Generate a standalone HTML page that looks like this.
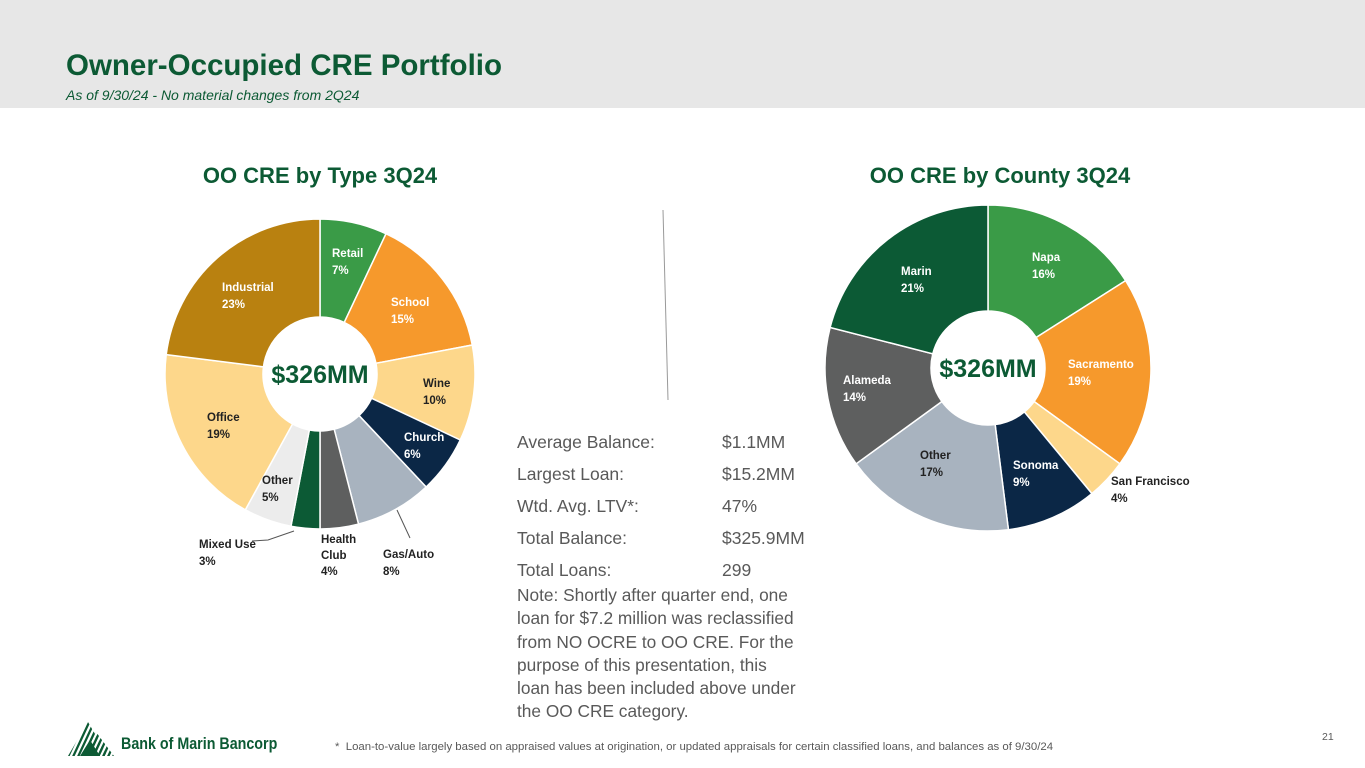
<!DOCTYPE html>
<html><head><meta charset="utf-8"><style>
body{margin:0;width:1365px;height:768px;overflow:hidden;background:#fff;font-family:"Liberation Sans",sans-serif;position:relative}
.a{position:absolute}
.lb{position:absolute;font-size:11.5px;font-weight:bold;line-height:17px;white-space:nowrap}
.w{color:#fff}.d{color:#222}
.st{position:absolute;font-size:17.5px;color:#595959;white-space:nowrap}
</style></head><body>
<div class="a" style="left:0;top:0;width:1365px;height:108px;background:#e7e7e7"></div>
<div class="a" style="left:66px;top:49px;font-size:29.5px;font-weight:bold;color:#0c5a34">Owner-Occupied CRE Portfolio</div>
<div class="a" style="left:66px;top:87px;font-size:14px;font-style:italic;color:#0c5a34">As of 9/30/24 - No material changes from 2Q24</div>
<div class="a" style="left:165px;width:310px;text-align:center;top:163px;font-size:22px;font-weight:bold;color:#0c5a34">OO CRE by Type 3Q24</div>
<div class="a" style="left:845px;width:310px;text-align:center;top:163px;font-size:22px;font-weight:bold;color:#0c5a34">OO CRE by County 3Q24</div>
<svg class="a" style="left:0;top:0" width="1365" height="768" id="svg">
<line x1="663" y1="210" x2="668" y2="400" stroke="#999" stroke-width="1"/>
<polyline points="252,541 268,540 294,531" fill="none" stroke="#555"/>
<line x1="397" y1="510" x2="410" y2="538" stroke="#555"/>
<text x="320" y="383" text-anchor="middle" font-size="25" font-weight="bold" fill="#0c5a34" font-family="Liberation Sans">$326MM</text>
<text x="988" y="377" text-anchor="middle" font-size="25" font-weight="bold" fill="#0c5a34" font-family="Liberation Sans">$326MM</text>
</svg>
<div class="lb w" style="left:332px;top:246px">Retail<br>7%</div>
<div class="lb w" style="left:391px;top:295px">School<br>15%</div>
<div class="lb d" style="left:423px;top:376px">Wine<br>10%</div>
<div class="lb w" style="left:404px;top:430px">Church<br>6%</div>
<div class="lb d" style="left:262px;top:473px">Other<br>5%</div>
<div class="lb d" style="left:207px;top:410px">Office<br>19%</div>
<div class="lb w" style="left:222px;top:280px">Industrial<br>23%</div>
<div class="lb d" style="left:199px;top:537px">Mixed Use<br>3%</div>
<div class="lb d" style="left:321px;top:532px;line-height:16px">Health<br>Club<br>4%</div>
<div class="lb d" style="left:383px;top:547px">Gas/Auto<br>8%</div>
<div class="lb w" style="left:1032px;top:250px">Napa<br>16%</div>
<div class="lb w" style="left:901px;top:264px">Marin<br>21%</div>
<div class="lb w" style="left:1068px;top:357px">Sacramento<br>19%</div>
<div class="lb w" style="left:843px;top:373px">Alameda<br>14%</div>
<div class="lb d" style="left:920px;top:448px">Other<br>17%</div>
<div class="lb w" style="left:1013px;top:458px">Sonoma<br>9%</div>
<div class="lb d" style="left:1111px;top:474px">San Francisco<br>4%</div>
<div class="st" style="left:517px;top:426px;line-height:32px">Average Balance:<br>Largest Loan:<br>Wtd. Avg. LTV*:<br>Total Balance:<br>Total Loans:</div>
<div class="st" style="left:722px;top:426px;line-height:32px">$1.1MM<br>$15.2MM<br>47%<br>$325.9MM<br>299</div>
<div class="st" style="left:517px;top:584px;line-height:23.3px;font-size:17.3px">Note: Shortly after quarter end, one<br>loan for $7.2 million was reclassified<br>from NO OCRE to OO CRE. For the<br>purpose of this presentation, this<br>loan has been included above under<br>the OO CRE category.</div>
<div class="a" style="left:68px;top:722px;width:50px;height:34px">
<svg width="52" height="34"><defs><pattern id="p" width="5" height="34" patternUnits="userSpaceOnUse" patternTransform="skewX(-25)"><rect width="2.5" height="34" fill="#0c5a34"/></pattern></defs><polygon points="0,34 20,0 40,34" fill="url(#p)"/><polygon points="14,34 28,10 46,34" fill="url(#p)"/><polygon points="12,34 22,18 32,34" fill="#0c5a34"/></svg></div>
<div class="a" style="left:121px;top:734px;font-size:17px;font-weight:bold;color:#0c5a34;transform:scaleX(0.84);transform-origin:left">Bank of Marin Bancorp</div>
<div class="a" style="left:335px;top:741px;font-size:11.4px;color:#595959;white-space:nowrap">*&nbsp; Loan-to-value largely based on appraised values at origination, or updated appraisals for certain classified loans, and balances as of 9/30/24</div>
<div class="a" style="left:1322px;top:731px;font-size:10.5px;color:#595959">21</div>
<script>
const typeCategories=["Retail","School","Wine","Church","Gas/Auto","Health Club","Mixed Use","Other","Office","Industrial"];
const typeValues=[7,15,10,6,8,4,3,5,19,23];
const typeColors=["#3a9b47","#f6992c","#fdd78b","#0b2746","#a8b3bf","#5e5f5f","#0c5a35","#ececec","#fdd78b","#b98110"];
const countyCategories=["Napa","Sacramento","San Francisco","Sonoma","Other","Alameda","Marin"];
const countyValues=[16,19,4,9,17,14,21];
const countyColors=["#3a9b47","#f6992c","#fdd78b","#0b2746","#a8b3bf","#5e5f5f","#0c5a35"];
const svg=document.getElementById('svg');
const NS="http://www.w3.org/2000/svg";
function donut(cats,vals,cols,cx,cy,r,ri,prefix){
  const total=vals.reduce((a,b)=>a+b,0);let a0=-Math.PI/2;
  const first=svg.firstChild;
  vals.forEach((v,i)=>{
    const a1=a0+v/total*2*Math.PI;const lg=(a1-a0)>Math.PI?1:0;
    const p=(a,rr)=>[cx+rr*Math.cos(a),cy+rr*Math.sin(a)];
    const [x0,y0]=p(a0,r),[x1,y1]=p(a1,r),[x2,y2]=p(a1,ri),[x3,y3]=p(a0,ri);
    const path=document.createElementNS(NS,'path');
    path.setAttribute('d',`M${x0},${y0}A${r},${r} 0 ${lg} 1 ${x1},${y1}L${x2},${y2}A${ri},${ri} 0 ${lg} 0 ${x3},${y3}Z`);
    path.setAttribute('fill',cols[i]);path.setAttribute('stroke','#fff');path.setAttribute('stroke-width','1.5');
    
    
    svg.insertBefore(path,first);
    a0=a1;
  });
}
donut(typeCategories,typeValues,typeColors,320,374,155,57,'type');
donut(countyCategories,countyValues,countyColors,988,368,163,57,'county');
</script>
</body></html>
